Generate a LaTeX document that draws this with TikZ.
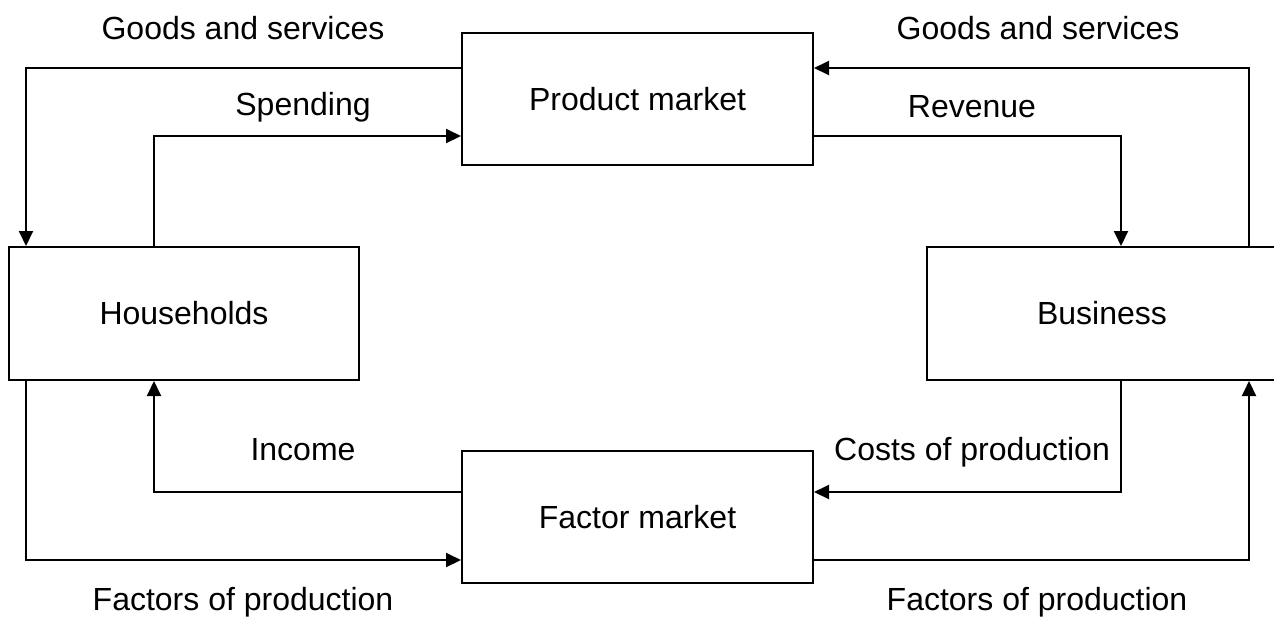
\documentclass[tikz,border=0pt]{standalone}
\usepackage{fontspec}
\setmainfont{Liberation Sans}
\usetikzlibrary{arrows.meta}

\begin{document}
\begin{tikzpicture}[x=0.5pt,y=-0.5pt,line width=1pt,
        market/.style={draw,minimum width=175.5pt,minimum height=66pt,inner sep=0pt,font=\fontsize{16}{19}\selectfont},
        sector/.style={market,minimum width=175pt,minimum height=66.5pt},
        flow/.style={-{Triangle[length=7.5pt,width=7pt]}},
        flowlabel/.style={font=\fontsize{16}{19}\selectfont},
        ]
        \clip (0,0) rectangle (1274,617);
        \node[market] (product) at (637.5,99) {Product market};
        \node[market] (factor) at (637.5,517) {Factor market};
        \node[sector] (households) at (184,313.5) {Households};
        \node[sector] (business) at (1102,313.5) {Business};
        % upper loop
        \draw[flow] ([yshift=15.5pt]product.west) -| ([xshift=9pt]households.north west);
        \draw[flow] ([xshift=-15pt]households.north) |- ([yshift=-18.5pt]product.west);
        \draw[flow] ([yshift=-18.5pt]product.east) -| ([xshift=9.5pt]business.north);
        \draw[flow] ([xshift=73.5pt]business.north) |- ([yshift=15.5pt]product.east);
        % lower loop
        \draw[flow] ([xshift=9.5pt]business.south) |- ([yshift=12.5pt]factor.east);
        \draw[flow] ([yshift=-21.5pt]factor.east) -| ([xshift=73.5pt]business.south);
        \draw[flow] ([yshift=12.5pt]factor.west) -| ([xshift=-15pt]households.south);
        \draw[flow] ([xshift=9pt]households.south west) |- ([yshift=-21.5pt]factor.west);
        \node[flowlabel] (goodsL) at (243,28) {Goods and services};
        \node[flowlabel] (goodsR) at (1038,28) {Goods and services};
        \node[flowlabel] (spending) at (303,107) {Spending};
        \node[flowlabel] (revenue) at (972,107) {Revenue};
        \node[flowlabel] (income) at (303,450) {Income};
        \node[flowlabel] (costs) at (972,452) {Costs of production};
        \node[flowlabel] (factorsL) at (243,602) {Factors of production};
        \node[flowlabel] (factorsR) at (1037,602) {Factors of production};
\end{tikzpicture}
\end{document}
